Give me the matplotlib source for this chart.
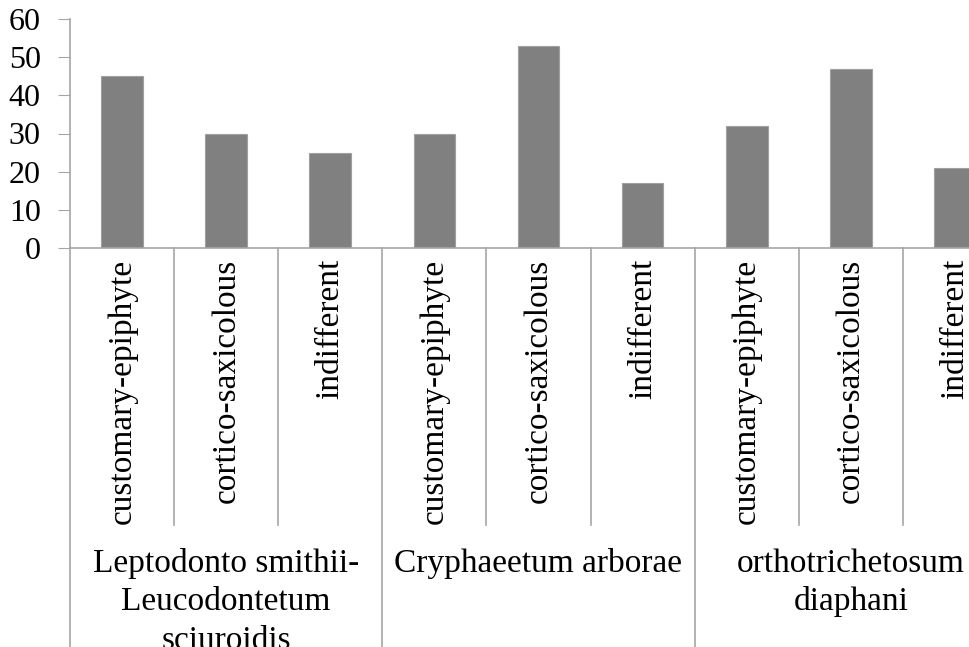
import numpy as np
import matplotlib.pyplot as plt
from matplotlib import transforms

# bar values per community / life-form
groups = ['Leptodonto smithii-\nLeucodontetum\nsciuroidis',
          'Cryphaeetum arborae',
          'orthotrichetosum\ndiaphani']
forms = ['customary-epiphyte', 'cortico-saxicolous', 'indifferent']
values = [45, 30, 25, 30, 53, 17, 32, 47, 21]

plt.rcParams['font.family'] = 'Liberation Serif'
grid_col = '#a6a6a6'

fig = plt.figure(figsize=(9.7, 6.47), dpi=100)
# axes runs past the right edge of the figure
ax = fig.add_axes([70/970, 1 - 248/647, 937/970, 229/647])

x = np.arange(len(values))
ax.bar(x, values, width=0.4, color='#808080', edgecolor='#a0a0a0', linewidth=0.8)

ax.set_xlim(-0.5, len(values) - 0.5)
ax.set_ylim(0, 60)
ax.set_yticks(range(0, 61, 10))
ax.tick_params(axis='y', labelsize=23, length=9, color=grid_col, pad=12)

for s in ['top', 'right']:
    ax.spines[s].set_visible(False)
for s in ['left', 'bottom']:
    ax.spines[s].set_color(grid_col)
    ax.spines[s].set_linewidth(1.2)

# rotated life-form labels
ax.set_xticks(x)
ax.set_xticklabels(forms * len(groups), rotation=90, fontsize=24)
ax.tick_params(axis='x', length=0, pad=8)

trans = transforms.blended_transform_factory(ax.transData, fig.transFigure)
axis_y = 1 - 248/647
inner_y = 1 - 525/647

# separators between categories; group boundaries run to the bottom
for i in range(len(values) + 1):
    xb = i - 0.5
    y_end = 0 if i % 3 == 0 else inner_y
    ax.plot([xb, xb], [axis_y, y_end], transform=trans, color=grid_col,
            lw=1.2, clip_on=False)

# group names under the rotated labels
for g, name in enumerate(groups):
    ax.text(g * 3 + 1, 1 - 548/647, name, transform=trans, ha='center',
            va='top', fontsize=24, linespacing=1.33, multialignment='center')

fig.savefig('out.png', dpi=100)
